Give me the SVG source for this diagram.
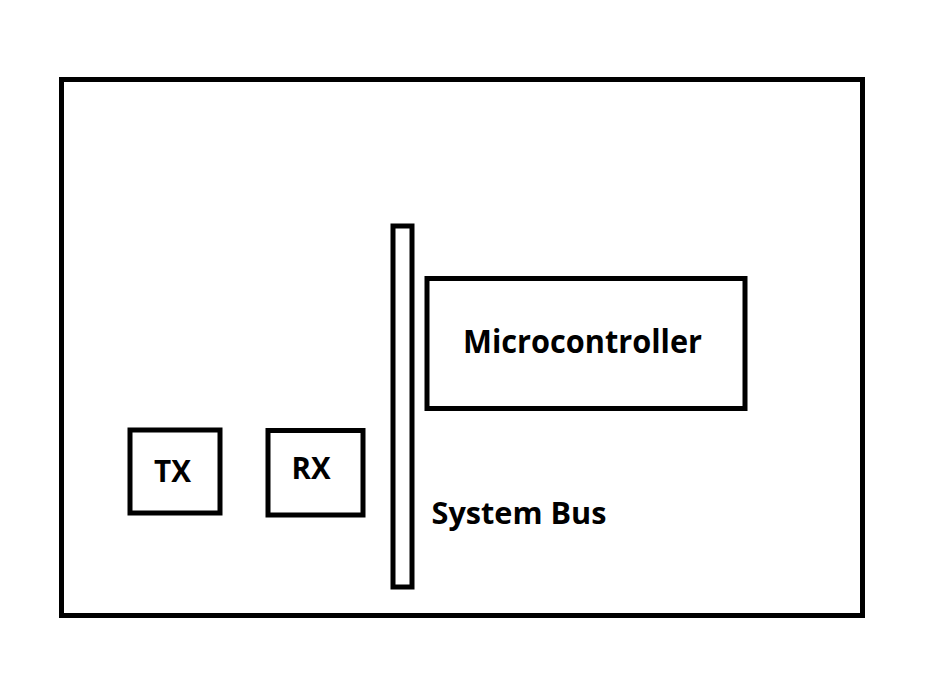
<svg xmlns="http://www.w3.org/2000/svg" width="930" height="696" viewBox="0 0 930 696">
<style>
.box{fill:#fff;stroke:#000;stroke-width:5}
.lbl{font-family:"Open Sans","Liberation Sans",sans-serif;font-weight:bold;fill:#000}
</style>
<rect width="930" height="696" fill="#fff"/>
<g id="frame"><rect class="box" x="61.5" y="79.5" width="801" height="536"/></g>
<g id="tx"><rect class="box" x="130" y="430" width="90" height="83"/><text class="lbl" x="154" y="482" font-size="30" textLength="37" lengthAdjust="spacingAndGlyphs">TX</text></g>
<g id="rx"><rect class="box" x="268" y="430.5" width="95" height="84.5"/><text class="lbl" x="291.5" y="479" font-size="30" textLength="39" lengthAdjust="spacingAndGlyphs">RX</text></g>
<g id="bus"><rect class="box" x="393" y="226" width="19" height="361"/></g>
<g id="microcontroller"><rect class="box" x="427" y="278.5" width="318" height="130"/><text class="lbl" x="463" y="353" font-size="32" textLength="239" lengthAdjust="spacingAndGlyphs">Microcontroller</text></g>
<g id="bus-label"><text class="lbl" x="431.5" y="524" font-size="30" textLength="175" lengthAdjust="spacingAndGlyphs">System Bus</text></g>
<g id="connectors"></g>
</svg>
